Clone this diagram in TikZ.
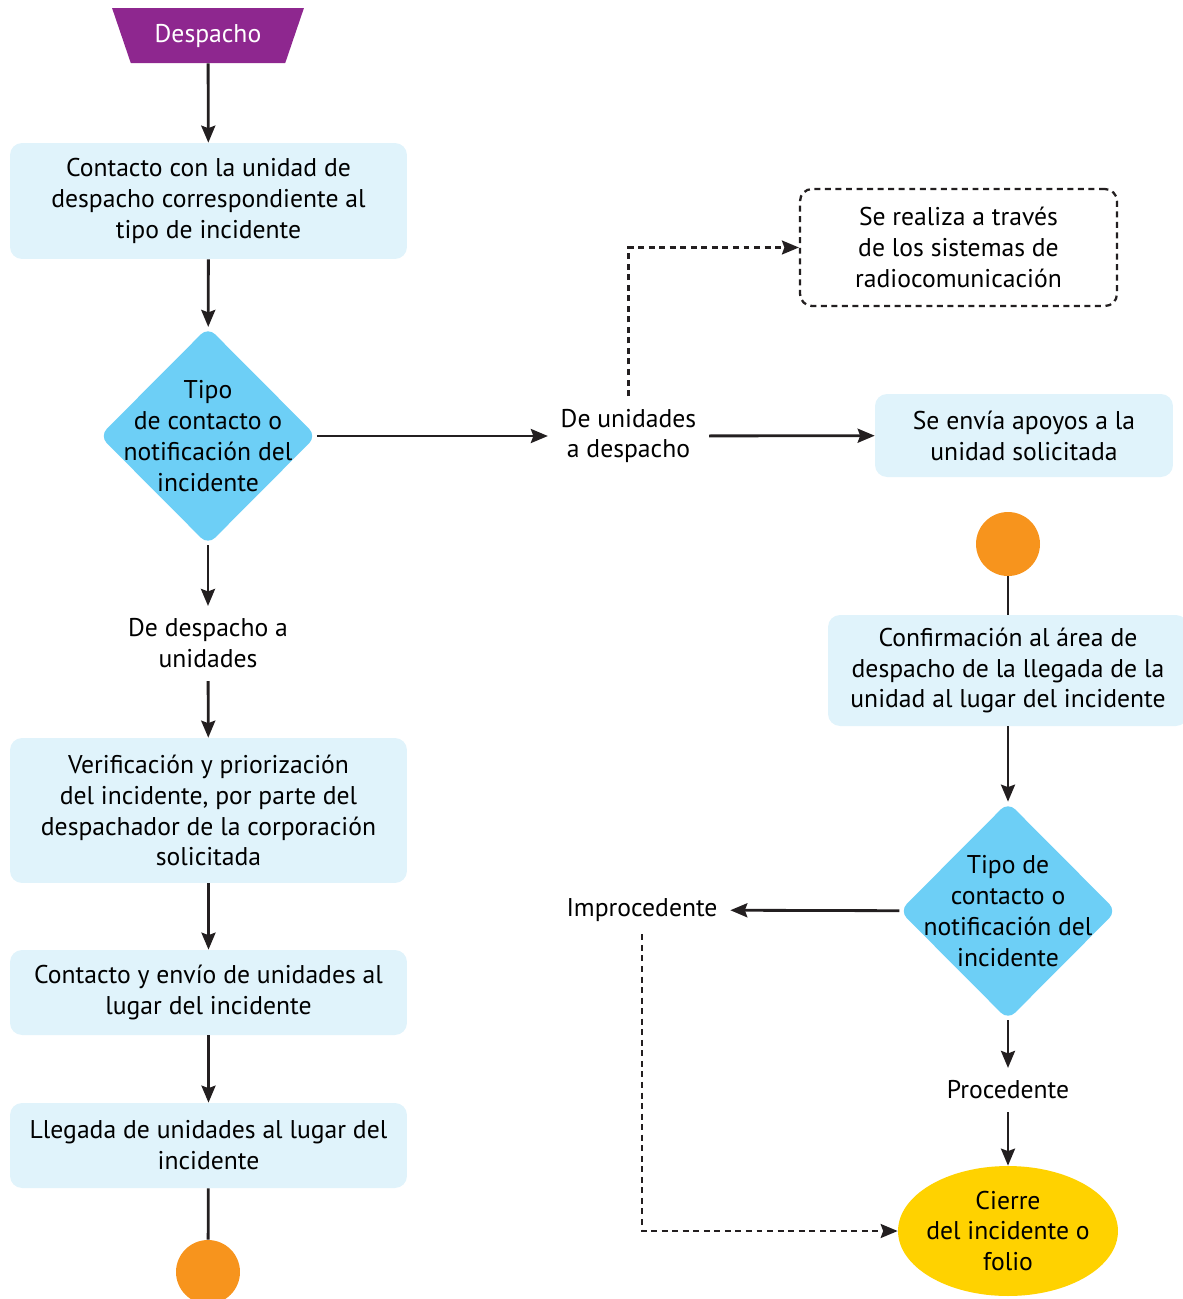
\documentclass[tikz,border=0pt]{standalone}
\usepackage{fontspec}
\setmainfont{PT Sans}
\usetikzlibrary{shapes, arrows.meta, positioning}
\definecolor{despachomorado}{RGB}{142, 39, 143}
\definecolor{cajaazul}{RGB}{224, 243, 251}
\definecolor{rombocian}{RGB}{109, 207, 246}
\definecolor{conectornaranja}{RGB}{247, 148, 29}
\definecolor{cierreamarillo}{RGB}{255, 210, 0}
\definecolor{linea}{RGB}{35, 31, 32}
\newcommand{\textoflujo}{\fontsize{14.6}{17.6}\selectfont}

\begin{document}
\begin{tikzpicture}[x=0.02cm, y=-0.02cm,
        inicio/.style={trapezium, trapezium angle=61, shape border rotate=180, trapezium stretches=true, fill=despachomorado, text=white, minimum width=3.86cm, minimum height=1.1cm, inner sep=0pt, font=\textoflujo},
        proceso/.style={rectangle, fill=cajaazul, rounded corners=0.24cm, minimum width=7.94cm, align=center, inner sep=0pt, font=\textoflujo},
        nota/.style={rectangle, draw=linea, line width=1.3pt, dash pattern=on 3.4pt off 2.6pt, rounded corners=0.24cm, align=center, inner sep=0pt, font=\textoflujo},
        decision/.style={diamond, aspect=1, fill=rombocian, rounded corners=0.2cm, minimum width=4.34cm, minimum height=4.36cm, inner sep=0pt},
        etiqueta/.style={align=center, inner xsep=0.25cm, inner ysep=0.25cm, font=\textoflujo},
        conector/.style={circle, fill=conectornaranja, minimum size=1.28cm, inner sep=0pt},
        cierre/.style={ellipse, fill=cierreamarillo, minimum width=4.4cm, minimum height=2.6cm, inner xsep=-0.2cm, inner ysep=-0.1cm, align=center, font=\textoflujo},
        flecha/.style={draw=linea, line width=1.6pt, -{Stealth[length=0.34cm, width=0.28cm, inset=0.05cm]}},
        liga/.style={draw=linea, line width=1.6pt},
        punteada/.style={flecha, line width=1.3pt, dash pattern=on 3.4pt off 2.6pt}
    ]
        \useasboundingbox (0, 0) rectangle (1183, 1299);

        % columna izquierda
        \node[inicio] (despacho) at (208, 35.5) {Despacho};
        \node[proceso, minimum height=2.32cm] (contacto) at (208.5, 201) {Contacto con la unidad de\\despacho correspondiente al\\tipo de incidente};
        \node[decision, label={[align=center, font=\textoflujo]center:Tipo\\de contacto o\\notificación del\\incidente}] (tipo1) at (208, 436) {};
        \node[etiqueta] (desunidades) at (208, 643.5) {De despacho a\\unidades};
        \node[proceso, minimum height=2.9cm] (verifica) at (208.5, 810.5) {Verificación y priorización\\del incidente, por parte del\\despachador de la corporación\\solicitada};
        \node[proceso, minimum height=1.7cm] (envio) at (208.5, 992.5) {Contacto y envío de unidades al\\lugar del incidente};
        \node[proceso, minimum height=1.7cm] (llegada) at (208.5, 1145.5) {Llegada de unidades al lugar del\\incidente};
        \node[conector] (conA) at (208, 1272) {};

        % columna derecha
        \node[etiqueta] (unidesp) at (628.5, 436) {De unidades\\a despacho};
        \node[nota, minimum width=6.34cm, minimum height=2.34cm] (radio) at (958.5, 247.5) {Se realiza a través\\de los sistemas de\\radiocomunicación};
        \node[proceso, minimum width=5.96cm, minimum height=1.66cm] (apoyos) at (1024, 435.5) {Se envía apoyos a la\\unidad solicitada};
        \node[conector] (conB) at (1008, 544) {};
        \node[proceso, minimum width=7.2cm, minimum height=2.22cm] (confirma) at (1008, 670.5) {Confirmación al área de\\despacho de la llegada de la\\unidad al lugar del incidente};
        \node[decision, label={[align=center, font=\textoflujo]center:Tipo de\\contacto o\\notificación del\\incidente}] (tipo2) at (1008, 911) {};
        \node[etiqueta] (improc) at (642, 910) {Improcedente};
        \node[etiqueta] (proced) at (1008, 1090) {Procedente};
        \node[cierre] (folio) at (1008, 1231) {Cierre\\del incidente o\\folio};

        \draw[flecha] (despacho) -- (contacto);
        \draw[flecha] (contacto) -- (tipo1);
        \draw[flecha] (tipo1) -- (desunidades);
        \draw[flecha] (desunidades) -- (verifica);
        \draw[flecha] (verifica) -- (envio);
        \draw[flecha] (envio) -- (llegada);
        \draw[liga] (llegada) -- (conA);

        \draw[flecha] (tipo1) -- (unidesp);
        \draw[flecha] (unidesp) -- (apoyos);
        \draw[punteada] (unidesp.north) |- (radio.west);
        \draw[liga] (conB) -- (confirma);
        \draw[flecha] (confirma) -- (tipo2);
        \draw[flecha] (tipo2) -- (improc);
        \draw[flecha] (tipo2) -- (proced);
        \draw[flecha] (proced) -- (folio);
        \draw[punteada] (improc.south) |- (folio.west);
    \end{tikzpicture}
\end{document}
